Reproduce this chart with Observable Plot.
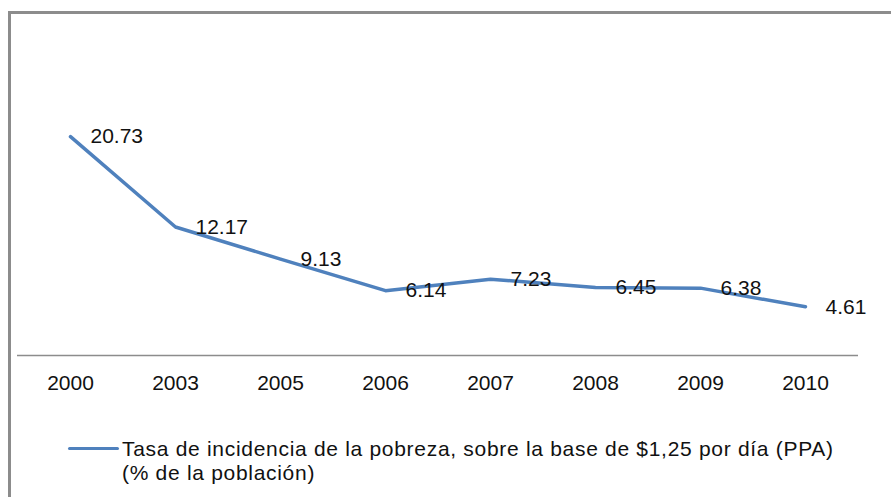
<!DOCTYPE html>
<html><head><meta charset="utf-8">
<script src="https://cdn.jsdelivr.net/npm/d3@7"></script>
<script src="https://cdn.jsdelivr.net/npm/@observablehq/plot@0.6"></script>
<style>
body{margin:0;background:#fff;font-family:"Liberation Sans",Arial,sans-serif;}
#wrap{position:relative;width:891px;height:497px;overflow:hidden;background:#fff;}
#frame{position:absolute;left:8px;top:11px;right:-10px;bottom:-10px;border-left:3px solid #8c8c8c;border-top:3px solid #8c8c8c;}
#chart{position:absolute;left:0;top:0;}
#swatch{position:absolute;left:68px;top:447px;width:51px;height:3px;background:#4F81BD;border-radius:1.5px;}
#legtext{position:absolute;left:122px;top:437px;font-size:21px;line-height:24px;letter-spacing:0.7px;color:#111;white-space:nowrap;}
</style></head>
<body>
<div id="wrap">
<div id="frame"></div>
<div id="chart"></div>
<div id="swatch"></div>
<div id="legtext"></div>
</div>
<script>
const years = ["2000","2003","2005","2006","2007","2008","2009","2010"];
const values = [20.73,12.17,9.13,6.14,7.23,6.45,6.38,4.61];
const seriesName = "Tasa de incidencia de la pobreza, sobre la base de $1,25 por día (PPA)";
const seriesName2 = "(% de la población)";

const data = years.map((y,i)=>({year:y,value:values[i]}));

const chart = Plot.plot({
  width:891, height:400,
  marginLeft:17, marginRight:33, marginTop:91, marginBottom:45,
  x:{type:"point", domain:years, padding:0.5, align:0.5, label:null},
  y:{domain:[0,25], axis:null},
  style:{fontFamily:"'Liberation Sans', Arial, sans-serif", fontSize:"21px", color:"#000", background:"transparent"},
  marks:[
    Plot.ruleY([0],{stroke:"#8c8c8c", strokeWidth:1.5}),
    Plot.axisX({tickSize:0, tickPadding:20, fontSize:21, fill:"#111"}),
    Plot.lineY(data,{x:"year", y:"value", stroke:"#4F81BD", strokeWidth:3.5, strokeLinejoin:"round", strokeLinecap:"round"}),
    Plot.text(data,{x:"year", y:"value", text:d=>d.value.toFixed(2), textAnchor:"start", dx:20, fontSize:21, fill:"#111", letterSpacing:"0.8px"})
  ]
});
document.getElementById("chart").appendChild(chart);
document.getElementById("legtext").innerHTML = seriesName + "<br>" + seriesName2;
</script>
</body></html>
